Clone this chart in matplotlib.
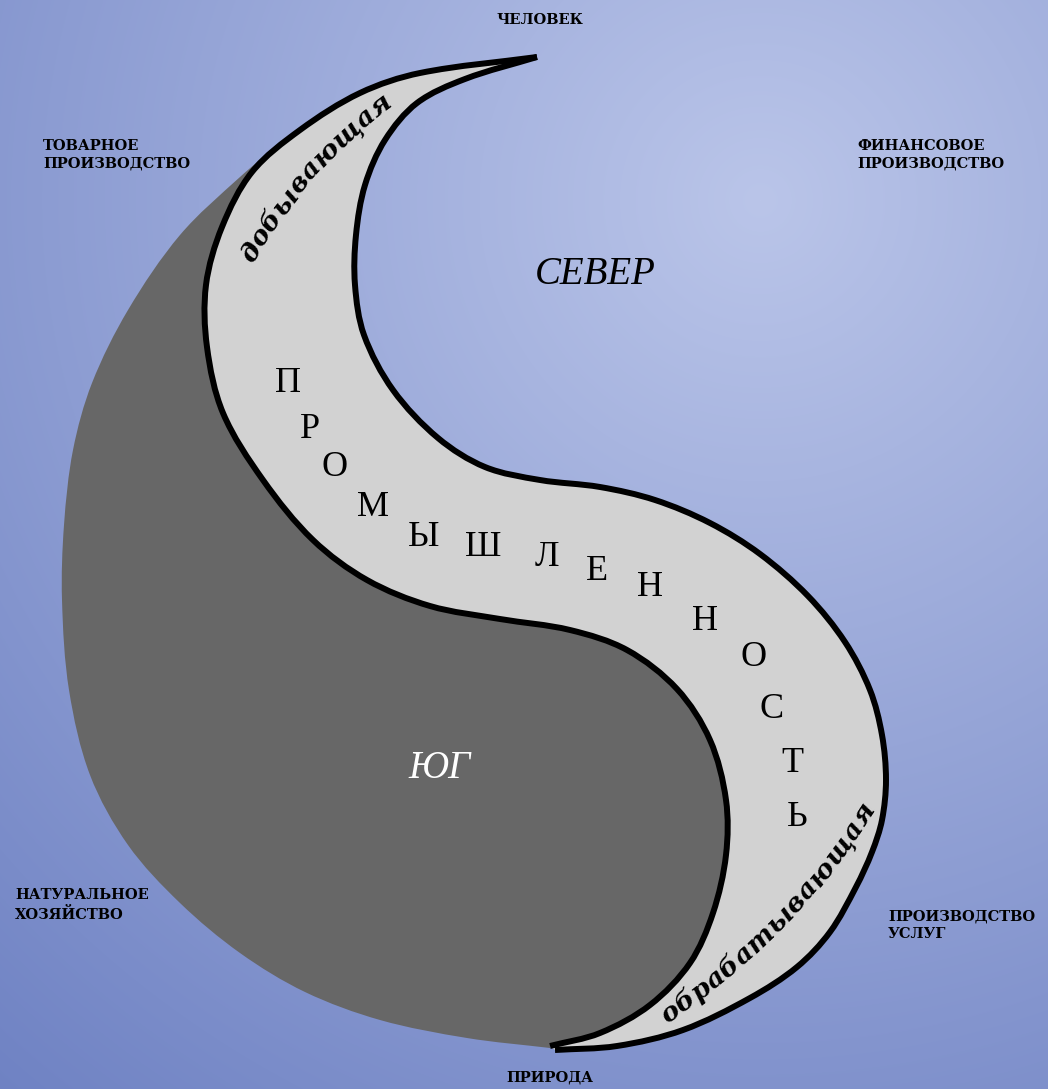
import numpy as np
import matplotlib.pyplot as plt
from matplotlib.path import Path
from matplotlib.patches import PathPatch

W, H = 1048, 1089

# outlines, pixel coords (y down)
band_left = [(537, 57), (420, 73), (360, 93), (300, 130), (252, 172), (222, 227),
             (206, 285), (207, 347), (223, 413), (263, 480), (313, 540), (367, 580),
             (430, 606), (500, 619), (570, 630), (627, 650), (677, 689), (710, 740),
             (726, 800), (726, 855), (713, 913), (690, 963), (650, 1005), (600, 1033),
             (550, 1046)]
band_right = [(537, 57), (465, 79), (417, 103), (385, 140), (365, 185), (356, 235),
              (355, 285), (364, 335), (393, 390), (438, 438), (485, 467), (540, 480),
              (600, 487), (655, 500), (710, 523), (760, 554), (808, 596), (845, 642),
              (870, 690), (882, 735), (886, 780), (882, 820), (872, 852), (856, 887),
              (830, 932), (797, 967), (750, 998), (683, 1030), (617, 1046), (555, 1050)]
dark_edge = [(290, 135), (240, 177), (180, 235), (128, 310), (92, 383),
             (73, 450), (64, 525), (62, 600), (69, 690), (90, 775), (128, 845),
             (180, 903), (240, 953), (305, 992), (380, 1020), (467, 1038), (550, 1048)]

word = "ПРОМЫШЛЕННОСТЬ"
word_x = [288, 310, 335, 373, 424, 483, 547, 597, 650, 705, 754, 772, 792, 797]
word_y = [383, 430, 468, 507, 537, 548, 557, 572, 588, 622, 657, 710, 763, 817]

corner_text = ["ЧЕЛОВЕК", "ТОВАРНОЕ\nПРОИЗВОДСТВО", "ФИНАНСОВОЕ\nПРОИЗВОДСТВО",
               "НАТУРАЛЬНОЕ\nХОЗЯЙСТВО", "ПРОИЗВОДСТВО\nУСЛУГ", "ПРИРОДА"]
corner_x = [540, 43, 857, 15, 888, 550]
corner_y = [20, 155, 155, 905, 925, 1078]
corner_ha = ["center", "left", "left", "left", "left", "center"]


def up(pts):
    return np.array([(x, H - y) for x, y in pts], float)


def bez(p):
    # smooth cubic segments through the points, tangents scaled by chord length
    n = len(p)
    d = np.linalg.norm(np.diff(p, axis=0), axis=1)
    m = np.zeros_like(p)
    m[0] = (p[1] - p[0]) / d[0]
    m[-1] = (p[-1] - p[-2]) / d[-1]
    for i in range(1, n - 1):
        m[i] = (p[i + 1] - p[i - 1]) / (d[i - 1] + d[i])
    v = []
    for i in range(n - 1):
        v += [p[i] + m[i] * d[i] / 3, p[i + 1] - m[i + 1] * d[i] / 3, p[i + 1]]
    return v


def curve(p):
    v = [p[0]] + bez(p)
    return Path(v, [Path.MOVETO] + [Path.CURVE4] * (len(v) - 1))


def shape(p, q):
    bp, bq = bez(p), bez(q)
    v = [p[0]] + bp + [q[0]] + bq + [p[0]]
    c = ([Path.MOVETO] + [Path.CURVE4] * len(bp) + [Path.LINETO]
         + [Path.CURVE4] * len(bq) + [Path.CLOSEPOLY])
    return Path(v, c)


def arc_text(ax, s, cx, cy, r, a0, a1, **kw):
    # letters along a circle arc, spaced by their own widths
    rend = ax.figure.canvas.get_renderer()
    wid = []
    for ch in s:
        t = ax.text(0, 0, ch, **kw)
        wid.append(t.get_window_extent(rend).width)
        t.remove()
    wid = np.array(wid)
    total = r * np.radians(abs(a1 - a0))
    gap = (total - wid.sum()) / len(s)
    pos = np.cumsum(wid + gap) - (wid + gap) / 2
    sgn = -1 if a1 < a0 else 1
    for ch, sl in zip(s, pos):
        a = a0 + sgn * np.degrees(sl / r)
        tt = np.radians(a)
        ax.text(cx + r * np.cos(tt), cy + r * np.sin(tt), ch, rotation=a + sgn * 90,
                rotation_mode='anchor', ha='center', va='center', **kw)


fig = plt.figure(figsize=(W / 100, H / 100), dpi=100)
ax = fig.add_axes([0, 0, 1, 1])
ax.set_xlim(0, W)
ax.set_ylim(0, H)
ax.axis('off')

# background gradient
yy, xx = np.mgrid[0:H, 0:W]
t = np.clip(np.hypot(xx - 760, yy - 200) / 1280, 0, 1)
light = np.array([186, 197, 233]) / 255
dark = np.array([104, 124, 192]) / 255
bg = light * (1 - t[..., None]) + dark * t[..., None]
ax.imshow(bg, extent=[0, W, 0, H], origin='upper', zorder=0)

L = up(band_left)
R = up(band_right)
D = up(dark_edge)

ax.add_patch(PathPatch(shape(D, L[3:][::-1]), fc='#676767', ec='none', zorder=1))
ax.add_patch(PathPatch(shape(L, R[::-1]), fc='#d2d2d2', ec='none', zorder=2))
for p in (L, R):
    ax.add_patch(PathPatch(curve(p), fc='none', ec='black', lw=4.3, zorder=3,
                           capstyle='butt'))

for ch, x, y in zip(word, word_x, word_y):
    ax.text(x, H - y, ch, ha='center', va='center', fontsize=26,
            family='Liberation Serif', zorder=4)

ax.text(595, H - 275, "СЕВЕР", ha='center', va='center', fontsize=28,
        style='italic', family='Liberation Serif', zorder=4)
ax.text(440, H - 768, "ЮГ", ha='center', va='center', fontsize=28,
        style='italic', family='Liberation Serif', color='white', zorder=4)

arc_text(ax, "добывающая", 682, 587, 498, 151, 126, fontsize=19,
         style='italic', weight='bold', family='DejaVu Serif', zorder=4)
arc_text(ax, "обрабатывающая", 276, 655, 700, -56.5, -32, fontsize=19,
         style='italic', weight='bold', family='DejaVu Serif', zorder=4)

for s, x, y, ha in zip(corner_text, corner_x, corner_y, corner_ha):
    ax.text(x, H - y, s, ha=ha, va='center', fontsize=10.5, weight='bold',
            family='DejaVu Serif', linespacing=1.35, zorder=4)

fig.savefig('out.png', dpi=100)
